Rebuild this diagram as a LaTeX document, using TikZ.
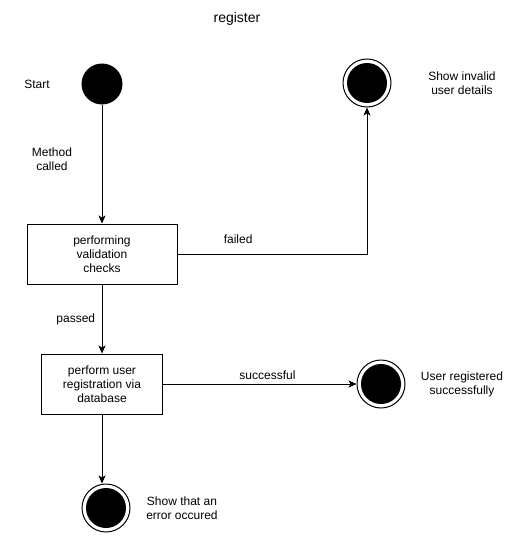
\documentclass[tikz,border=0pt]{standalone}
\usepackage{fontspec}
\setmainfont{Liberation Sans}
\usetikzlibrary{arrows.meta}

\begin{document}
\begin{tikzpicture}[
        x=1pt, y=-1pt,
        font=\fontsize{12}{14}\selectfont,
        state/.style={draw, rectangle, line width=1pt, minimum width=150pt, minimum height=60pt, align=center},
        initial/.style={circle, fill=black, minimum size=41pt, inner sep=0pt},
        final/.style={circle, draw, line width=1pt, minimum size=48pt, inner sep=0pt,
            path picture={\fill (path picture bounding box.center) circle (20pt);}},
        arrow/.style={-{Stealth[length=8pt, width=7pt, inset=2pt]}, line width=1pt}
    ]
        \useasboundingbox (0,0) rectangle (514,543);

        % Title and start state
        \node (title) at (237,19) {\fontsize{14}{16}\selectfont register};
        \node[initial] (start) at (102,84) {};
        \node (start-text) at (37,84) {Start};

        % Activity boxes
        \node[state] (validate) at (102,254) {performing\\validation\\checks};
        \node[state, minimum width=121pt] (register) at (102,384) {perform user\\registration via\\database};

        % Final states
        \foreach \name/\x/\y in {invalid/367/83, done/381/384, error/106/508} {
            \node[final] (\name) at (\x,\y) {};
        }
        \node[align=center] (invalid-text) at (462,83) {Show invalid\\user details};
        \node[align=center] (done-text) at (462,384) {User registered\\successfully};
        \node[align=center] (error-text) at (182,508) {Show that an\\error occured};

        % Transitions
        \node[align=center] (called) at (52,159) {Method\\called};
        \draw[arrow] (start) -- (validate);
        \draw[arrow] (validate) -| (invalid) node[pos=0.16, above=7pt] {failed};
        \draw[arrow] (validate) -- (register) node[midway, left=3pt] {passed};
        \draw[arrow] (register) -- (done) node[pos=0.54, above=1pt] {successful};
        \draw[arrow] (register.south) -- (register.south |- error.north);
    \end{tikzpicture}
\end{document}
